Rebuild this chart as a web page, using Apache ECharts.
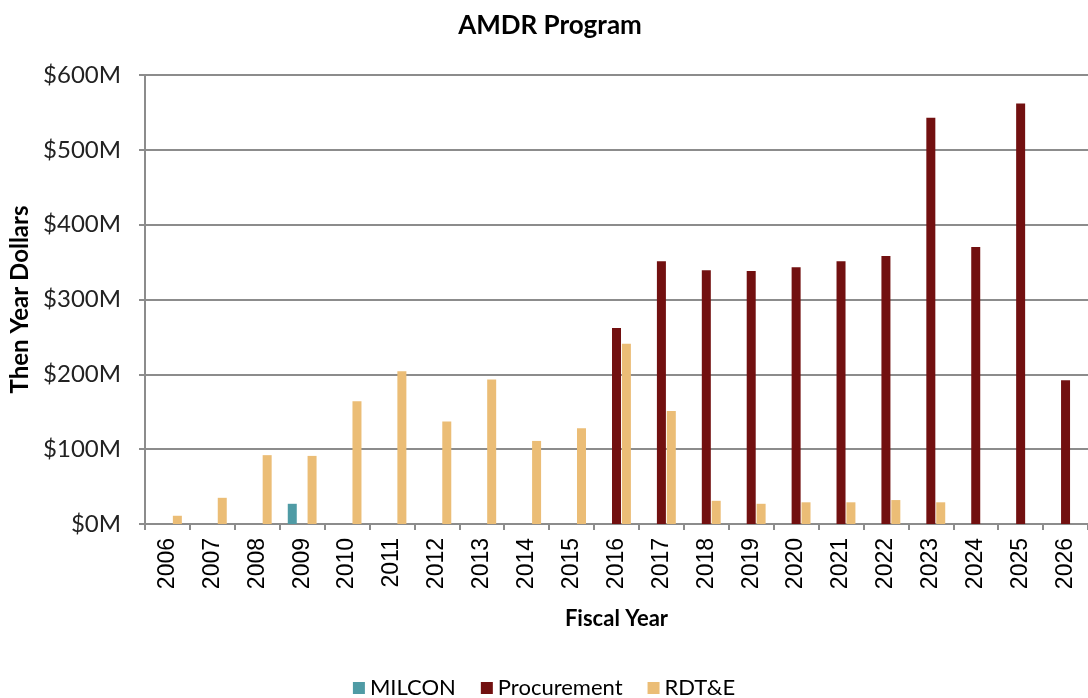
<!DOCTYPE html>
<html style="height: 100%">
<head>
    <meta charset="utf-8">
    <title>AMDR Program</title>
    <script src="https://cdn.jsdelivr.net/npm/echarts@6/dist/echarts.min.js"></script>
</head>
<body style="height: 100%; margin: 0; background: #fff">
<div id="main" style="width: 1088px; height: 698px"></div>

<script type="text/javascript">
    // fiscal years
    var years = ['2006', '2007', '2008', '2009', '2010', '2011', '2012', '2013', '2014', '2015', '2016',
        '2017', '2018', '2019', '2020', '2021', '2022', '2023', '2024', '2025', '2026'];

    // then year dollars, $M
    var milcon = [0, 0, 0, 27, 0, 0, 0, 0, 0, 0, 0, 0, 0, 0, 0, 0, 0, 0, 0, 0, 0];
    var procurement = [0, 0, 0, 0, 0, 0, 0, 0, 0, 0, 262, 351, 339, 338, 343, 351, 358, 543, 370, 562, 192];
    var rdte = [11, 35, 92, 91, 164, 204, 137, 193, 111, 128, 241, 151, 31, 27, 29, 29, 32, 29, 0, 0, 0];

    var yTicks = [0, 100, 200, 300, 400, 500, 600];

    function blankZero(arr) {
        return arr.map(function (v) { return v === 0 ? null : v; });
    }

    var myChart = echarts.init(document.getElementById('main'));

    var option = {
        animation: false,
        backgroundColor: '#fff',
        title: {
            text: 'AMDR Program',
            left: 545,
            textAlign: 'center',
            top: 8,
            textStyle: {fontSize: 26, fontWeight: 'bold', color: '#000', fontFamily: 'Lato'}
        },
        legend: {
            top: 672,
            left: 'center',
            itemWidth: 12,
            itemHeight: 12,
            itemGap: 25,
            icon: 'rect',
            textStyle: {fontSize: 22, color: '#000', fontFamily: 'Lato'},
            data: ['MILCON', 'Procurement', 'RDT&E']
        },
        grid: {
            left: 145,
            top: 75,
            width: 945,
            height: 449,
            containLabel: false
        },
        xAxis: {
            type: 'category',
            data: years,
            name: 'Fiscal Year',
            nameLocation: 'middle',
            nameGap: 84,
            nameTextStyle: {fontSize: 22, fontWeight: 'bold', color: '#000', fontFamily: 'Lato'},
            axisLine: {lineStyle: {color: '#8c8c8c', width: 2}},
            axisTick: {show: true, length: 6, lineStyle: {color: '#8c8c8c', width: 2}},
            axisLabel: {rotate: 90, fontSize: 23, color: '#000', margin: 14, fontFamily: 'Liberation Sans'}
        },
        yAxis: {
            type: 'value',
            min: 0,
            max: 600,
            interval: 100,
            name: 'Then Year Dollars',
            nameLocation: 'middle',
            nameGap: 109,
            nameTextStyle: {fontSize: 24, fontWeight: 'bold', color: '#000', fontFamily: 'Lato'},
            axisLine: {show: true, lineStyle: {color: '#8c8c8c', width: 2}},
            axisTick: {show: true, length: 6, lineStyle: {color: '#8c8c8c', width: 2}},
            splitLine: {lineStyle: {color: '#8c8c8c', width: 2}},
            axisLabel: {
                fontSize: 24, color: '#222', margin: 24, fontFamily: 'Lato',
                formatter: function (v) { return yTicks.indexOf(v) >= 0 ? '$' + v + 'M' : ''; }
            }
        },
        series: [
            {
                name: 'MILCON',
                type: 'bar',
                barWidth: 9,
                barGap: '10%',
                itemStyle: {color: '#4f9ba5'},
                data: blankZero(milcon)
            },
            {
                name: 'Procurement',
                type: 'bar',
                barWidth: 9,
                barGap: '10%',
                itemStyle: {color: '#721010'},
                data: blankZero(procurement)
            },
            {
                name: 'RDT&E',
                type: 'bar',
                barWidth: 9,
                barGap: '10%',
                itemStyle: {color: '#ebbd76'},
                data: blankZero(rdte)
            }
        ]
    };
    myChart.setOption(option, true);
</script>
</body>
</html>
